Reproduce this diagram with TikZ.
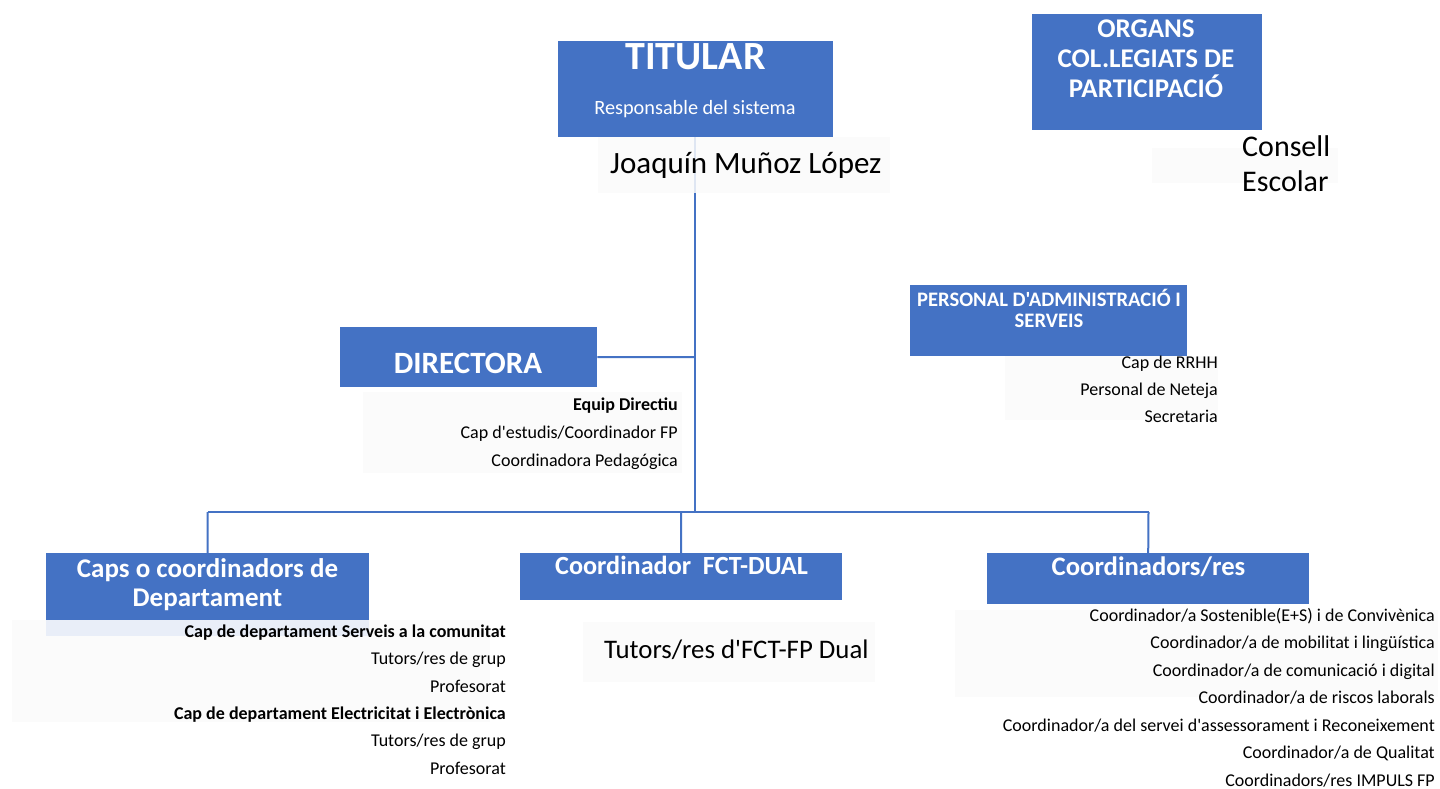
\documentclass[tikz,border=0pt]{standalone}
\usepackage{fontspec}
\setmainfont{Carlito}[Ligatures=TeXOff]
\definecolor{boxblue}{HTML}{4472C4}
\definecolor{lineblue}{HTML}{4472C4}
\definecolor{faint}{HTML}{FBFBFB}
\definecolor{strip}{HTML}{E9EEF8}
\begin{document}
\begin{tikzpicture}[x=1pt,y=-1pt,
  box/.style={fill=boxblue, draw=none, inner sep=0, anchor=north west},
  panel/.style={fill=faint, draw=none, inner sep=0, anchor=north west, fill opacity=0.85},
  conn/.style={draw=lineblue, line width=2pt},
  ttl/.style={text=white, font=\fontsize{#1}{#1}\selectfont\bfseries, inner sep=0, anchor=base},
  ttl/.default=27,
  item/.style={text=black, font=\fontsize{18}{20}\selectfont, inner sep=0, anchor=base east},
  bitem/.style={item, font=\fontsize{18}{20}\selectfont\bfseries},
  big/.style={text=black, font=\fontsize{#1}{#1}\selectfont, inner sep=0, anchor=base west}
]
\useasboundingbox (0,0) rectangle (1440,789);
\fill[white] (0,0) rectangle (1440,789);

% ---------- boxes ----------
\node[box, minimum width=275, minimum height=96] (titular) at (558,41) {};
\node[box, minimum width=230, minimum height=116] (organs) at (1032,14) {};
\node[box, minimum width=257, minimum height=60] (directora) at (340,327) {};
\node[box, minimum width=277, minimum height=71] (personal) at (910,285) {};
\node[box, minimum width=323, minimum height=67] (caps) at (46,553) {};
\node[box, minimum width=322, minimum height=47] (fct) at (520,553) {};
\node[box, minimum width=322, minimum height=51] (coords) at (987,553) {};

% ---------- connectors ----------
\coordinate (jD) at (695,357);
\coordinate (jM) at (695,512);
\coordinate (jL) at (207.5,512);
\coordinate (jC) at (681,512);
\coordinate (jR) at (1148.5,512);
\draw[conn] (titular.south -| jM) -- (jM);
\draw[conn] (directora.east) -- (jD);
\draw[conn] (jL) -- (jR);
\draw[conn] (jL) -- (caps.north);
\draw[conn] (jC) -- (fct.north);
\draw[conn] (jR) -- (coords.north);

% ---------- faint panels ----------
\node[panel, minimum width=292, minimum height=56] (pJoaquin) at (598,137) {};
\node[panel, minimum width=186, minimum height=35] (pConsell) at (1152,148) {};
\node[panel, minimum width=319, minimum height=81] (pDir) at (363,392) {};
\node[panel, minimum width=213, minimum height=64] (pPers) at (1005,356) {};
\node[panel, minimum width=478, minimum height=102] (pCaps) at (12,620) {};
\node[fill=strip, inner sep=0, anchor=north west, minimum width=323, minimum height=16] (pStrip) at (46,620) {};
\node[panel, minimum width=292, minimum height=60] (pFct) at (583,622) {};
\node[panel, minimum width=483, minimum height=87] (pCoords) at (955,610) {};

% ---------- box titles ----------
\node[ttl=40] (tTitular) at (695.5,69.5) {TITULAR};
\node[text=white, font=\fontsize{20.3}{22}\selectfont, inner sep=0, anchor=base] (tResp) at (695,115) {Responsable del sistema};
\node[ttl] (tOrg1) at (1146,38) {ORGANS};
\node[ttl] (tOrg2) at (1146,68) {COL.LEGIATS DE};
\node[ttl] (tOrg3) at (1146,98) {PARTICIPACIÓ};
\node[ttl=31] (tDir) at (468,373) {DIRECTORA};
\node[ttl=20.6] (tPers1) at (1049,306) {PERSONAL D'ADMINISTRACIÓ I};
\node[ttl=20.6] (tPers2) at (1049,327) {SERVEIS};
\node[ttl] (tCaps1) at (207.5,577) {Caps o coordinadors de};
\node[ttl] (tCaps2) at (207.5,606) {Departament};
\node[ttl=26.2] (tFct) at (681.5,574) {Coordinador\ \ FCT-DUAL};
\node[ttl=26.7] (tCoords) at (1148.5,575) {Coordinadors/res};

% ---------- free texts ----------
\node[big=31] (tJoaquin) at (610,173) {Joaquín Muñoz López};
\node[big=30] (tConsell1) at (1242,157) {Consell};
\node[big=30] (tConsell2) at (1242,191) {Escolar};
\node[big=26.8] (tTutFct) at (604,658) {Tutors/res d'FCT-FP Dual};

% directora list
\node[bitem] (d1) at (678,410) {Equip Directiu};
\node[item] (d2) at (678,438) {Cap d'estudis/Coordinador FP};
\node[item] (d3) at (678,466) {Coordinadora Pedagógica};

% personal list
\node[item] (p1) at (1218,368) {Cap de RRHH};
\node[item] (p2) at (1218,395) {Personal de Neteja};
\node[item] (p3) at (1218,422) {Secretaria};

% caps list
\node[bitem] (c1) at (506,637) {Cap de departament Serveis a la comunitat};
\node[item] (c2) at (506,664.5) {Tutors/res de grup};
\node[item] (c3) at (506,692) {Profesorat};
\node[bitem] (c4) at (506,719) {Cap de departament Electricitat i Electrònica};
\node[item] (c5) at (506,746.5) {Tutors/res de grup};
\node[item] (c6) at (506,774) {Profesorat};

% coordinadors list
\foreach \t [count=\i] in {{Coordinador/a Sostenible(E+S) i de Convivènica},
  {Coordinador/a de mobilitat i lingüística},
  {Coordinador/a de comunicació i digital},
  {Coordinador/a de riscos laborals},
  {Coordinador/a del servei d'assessorament i Reconeixement},
  {Coordinador/a de Qualitat},
  {Coordinadors/res IMPULS FP}}
  \node[item] (k\i) at (1435,{621+27.5*(\i-1)}) {\t};
\end{tikzpicture}
\end{document}
